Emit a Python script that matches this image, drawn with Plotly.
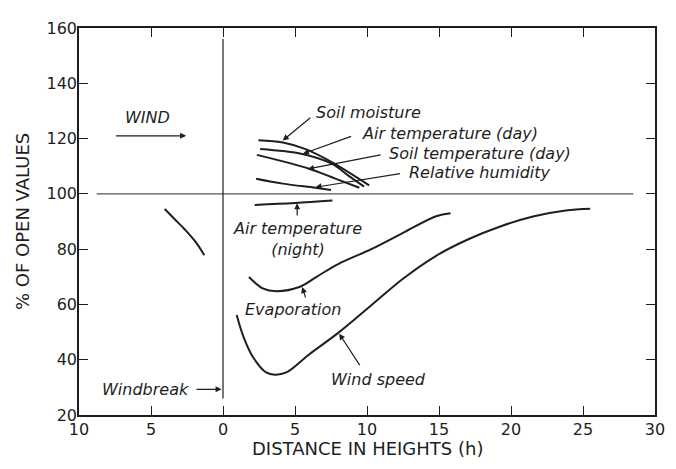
import plotly.graph_objects as go

# ---- data ----
upwind_x = [-4.05, -3.35, -2.65, -1.9, -1.3]
upwind_y = [94.5, 90.8, 87.1, 82.6, 77.8]

wind_x = [0.95, 1.45, 2.1, 3.0, 3.6, 4.4, 6.0, 8.0, 10.3, 12.5, 14.8, 17.0, 19.3, 21.6, 23.8, 25.5]
wind_y = [56.2, 47.9, 40.8, 35.4, 34.6, 35.4, 42.0, 49.7, 59.7, 69.3, 77.6, 83.5, 88.3, 91.9, 94.0, 94.6]

evap_x = [1.8, 2.8, 3.7, 5.3, 6.5, 8.0, 10.3, 12.5, 14.8, 15.8]
evap_y = [69.9, 65.7, 64.8, 66.3, 70.0, 74.6, 80.0, 85.9, 91.9, 93.0]

night_x = [2.2, 5.0, 7.6]
night_y = [96.0, 96.7, 97.6]

soilm_x = [2.46, 4.16, 5.74, 7.55, 10.15]
soilm_y = [119.4, 118.6, 116.2, 111.5, 103.1]

airday_x = [2.58, 5.5, 7.55, 8.68, 9.8]
airday_y = [116.2, 114.4, 110.9, 106.7, 102.6]

soilt_x = [2.35, 5.97, 7.8, 9.47]
soilt_y = [114.1, 109.1, 105.5, 102.2]

rh_x = [2.3, 4.16, 6.42, 7.5]
rh_y = [105.5, 103.7, 102.2, 101.4]

x_tickvals = [-10, -5, 0, 5, 10, 15, 20, 25, 30]
x_ticktext = ["10", "5", "0", "5", "10", "15", "20", "25", "30"]
y_tickvals = [20, 40, 60, 80, 100, 120, 140, 160]

INK = "#1e1e1e"
FONT = "DejaVu Sans"

fig = go.Figure()

def curve(x, y):
    fig.add_trace(go.Scatter(x=x, y=y, mode="lines",
                             line=dict(color=INK, width=2.0, shape="spline", smoothing=1.0),
                             showlegend=False, hoverinfo="skip"))

for cx, cy in [(upwind_x, upwind_y), (wind_x, wind_y), (evap_x, evap_y),
               (night_x, night_y), (soilm_x, soilm_y), (airday_x, airday_y),
               (soilt_x, soilt_y), (rh_x, rh_y)]:
    curve(cx, cy)

# reference lines: 100 % line and windbreak position
fig.add_shape(type="line", x0=-8.77, x1=28.5, y0=100, y1=100,
              line=dict(color="#555555", width=1.4))
fig.add_shape(type="line", x0=0, x1=0, y0=26, y1=156,
              line=dict(color=INK, width=1.2))

ann = []

def label(text, x, y, xanchor="center", italic=True, size=16):
    ann.append(dict(text=text, x=x, y=y, xref="x", yref="y", showarrow=False,
                    xanchor=xanchor, yanchor="middle",
                    font=dict(family=FONT, size=size, color=INK,
                              style="italic" if italic else "normal")))

def arrow(x0, y0, x1, y1):
    ann.append(dict(text="", x=x1, y=y1, ax=x0, ay=y0, xref="x", yref="y",
                    axref="x", ayref="y", showarrow=True, arrowhead=2,
                    arrowsize=1, arrowwidth=1.2, arrowcolor=INK))

label("Soil moisture", 6.3, 129.4, xanchor="left")
label("Air temperature (day)", 9.49, 121.9, xanchor="left")
label("Soil temperature (day)", 11.39, 114.6, xanchor="left")
label("Relative humidity", 12.75, 107.8, xanchor="left")
label("Air temperature<br>(night)", 5.15, 83.5)
label("Evaporation", 4.85, 58.1)
label("Wind speed", 10.8, 32.8)
label("WIND", -5.26, 127.6)
label("Windbreak", -5.39, 29.3)

arrow(6.17, 128.0, 4.15, 119.3)
arrow(9.0, 121.0, 5.55, 114.5)
arrow(11.05, 114.2, 5.9, 109.0)
arrow(12.4, 107.4, 6.42, 102.4)
arrow(5.15, 91.6, 5.15, 96.6)
arrow(5.76, 62.0, 5.5, 66.3)
arrow(9.56, 37.5, 8.07, 49.4)
arrow(-7.54, 121.0, -2.56, 121.0)
arrow(-1.95, 29.3, -0.1, 29.3)

# axis titles
ann.append(dict(text="% OF OPEN VALUES", xref="paper", yref="paper",
                x=-0.098, y=0.5, showarrow=False, textangle=-90,
                xanchor="center", yanchor="middle",
                font=dict(family=FONT, size=18, color=INK)))
ann.append(dict(text="DISTANCE IN HEIGHTS (h)", xref="paper", yref="paper",
                x=0.5, y=-0.086, showarrow=False,
                xanchor="center", yanchor="middle",
                font=dict(family=FONT, size=18, color=INK)))

axis_common = dict(showgrid=False, zeroline=False, showline=True, linecolor=INK,
                   linewidth=1.6, mirror="allticks", ticks="inside", ticklen=9,
                   tickwidth=1.4, tickcolor=INK,
                   tickfont=dict(family=FONT, size=16, color=INK))

# the page body adds an 8px offset; the figure is sized to compensate
fig.update_layout(
    width=668, height=461,
    margin=dict(l=71, r=11, t=12, b=54),
    paper_bgcolor="white", plot_bgcolor="white",
    xaxis=dict(range=[-10, 30], tickvals=x_tickvals, ticktext=x_ticktext,
               ticklabelstandoff=-1, **axis_common),
    yaxis=dict(range=[20, 160], tickvals=y_tickvals, ticklabelstandoff=-3,
               **axis_common),
    annotations=ann,
    showlegend=False,
)

fig.write_html("out.html")
